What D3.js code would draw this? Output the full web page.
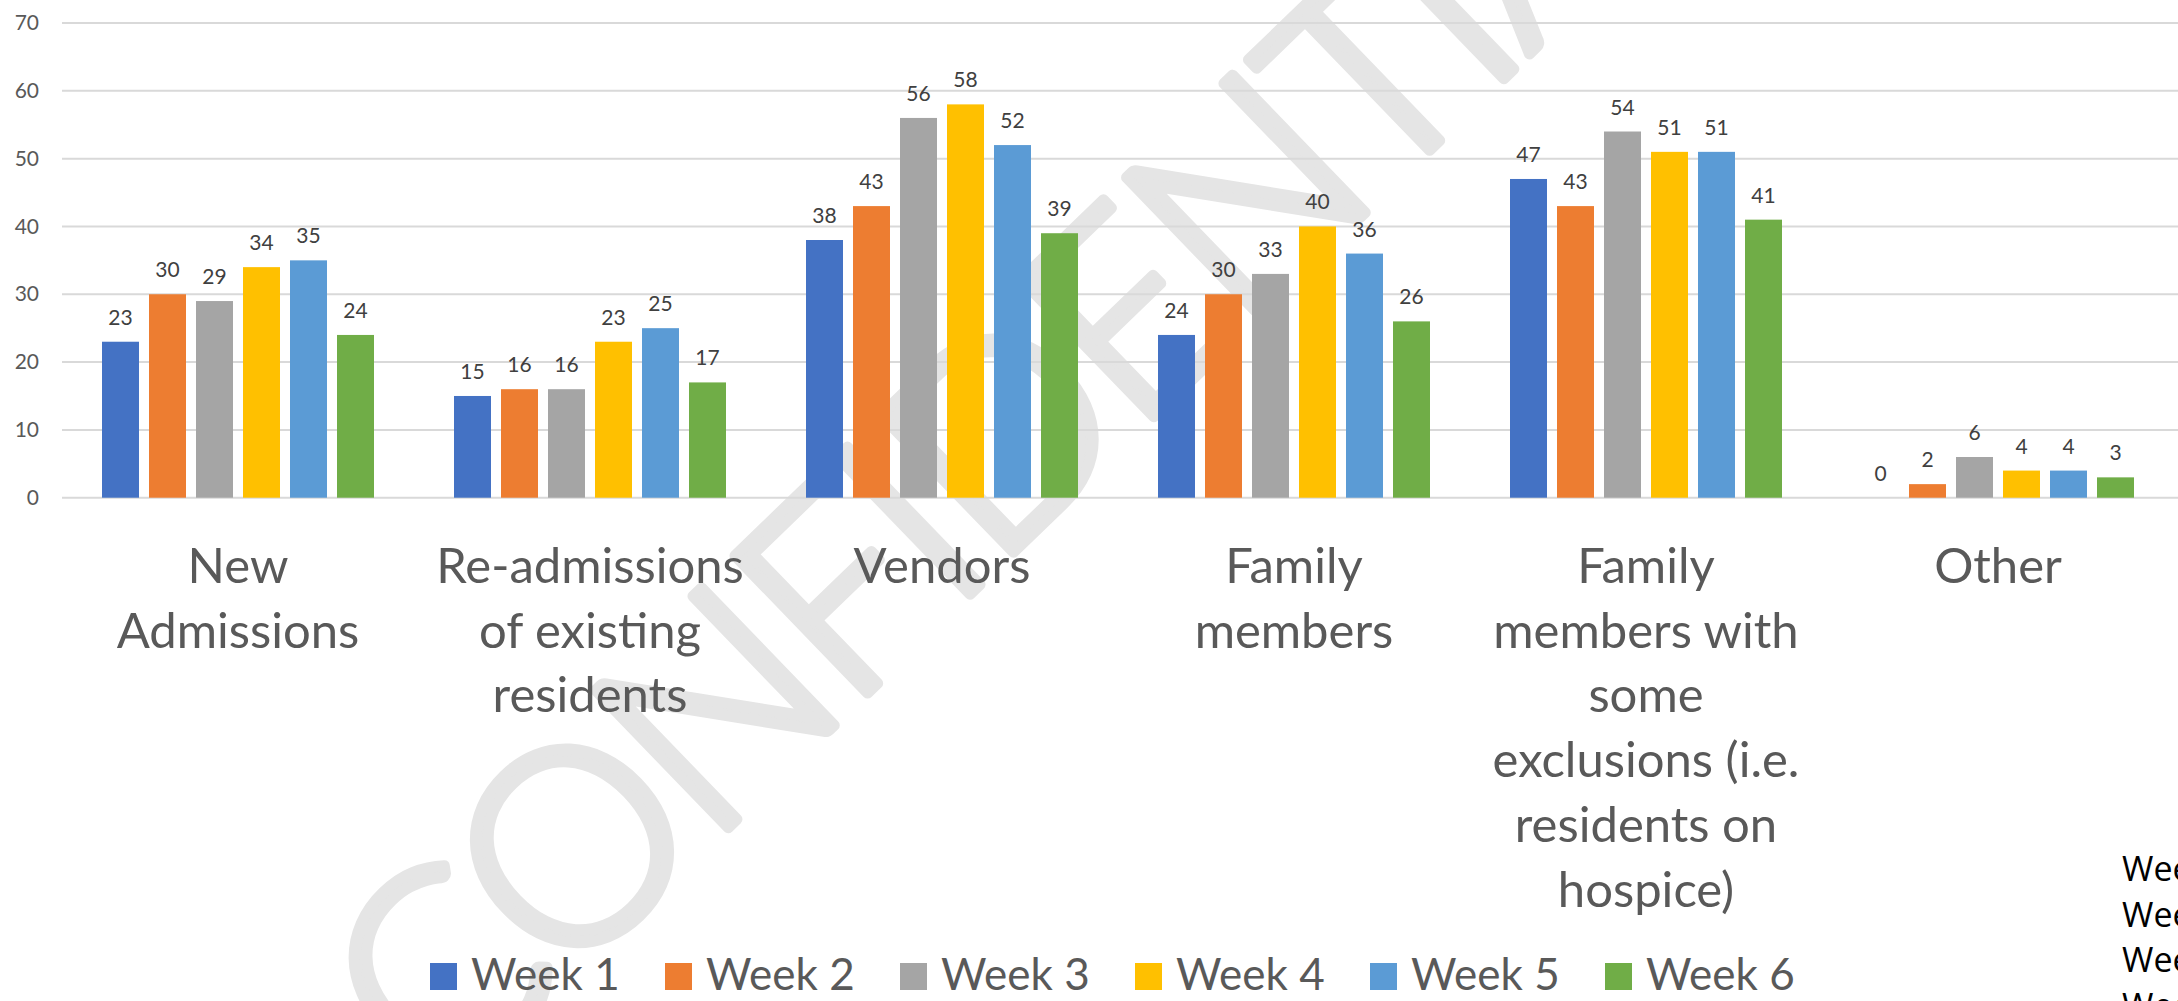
<!DOCTYPE html>
<html>
<head>
<meta charset="utf-8">
<script src="https://cdn.jsdelivr.net/npm/d3@7"></script>
<style>
  html, body { margin: 0; padding: 0; background: #fff; overflow: hidden; }
  svg { display: block; }
</style>
</head>
<body>
<svg id="chart"></svg>
<script>
// chart data
var categories = [
  ['New', 'Admissions'],
  ['Re-admissions', 'of existing', 'residents'],
  ['Vendors'],
  ['Family', 'members'],
  ['Family', 'members with', 'some', 'exclusions (i.e.', 'residents on', 'hospice)'],
  ['Other']
];
var weeks = ['Week 1', 'Week 2', 'Week 3', 'Week 4', 'Week 5', 'Week 6'];
var week1 = [23, 15, 38, 24, 47, 0];
var week2 = [30, 16, 43, 30, 43, 2];
var week3 = [29, 16, 56, 33, 54, 6];
var week4 = [34, 23, 58, 40, 51, 4];
var week5 = [35, 25, 52, 36, 51, 4];
var week6 = [24, 17, 39, 26, 41, 3];
var yTicks = [0, 10, 20, 30, 40, 50, 60, 70];
var sideLabels = ['Week 1', 'Week 2', 'Week 3', 'Week 4'];

var colors = ['#4472c4', '#ed7d31', '#a5a5a5', '#ffc000', '#5b9bd5', '#70ad47'];
var series = [week1, week2, week3, week4, week5, week6];

var width = 2178,
    height = 1001;

var svg = d3.select('#chart')
    .attr('width', width)
    .attr('height', height);

// watermark, behind everything
svg.append('text')
    .attr('transform', 'translate(1025,406) rotate(-44)')
    .attr('text-anchor', 'middle')
    .attr('dy', '0.36em')
    .attr('textLength', 1815)
    .attr('lengthAdjust', 'spacing')
    .style('font-family', 'Lato, sans-serif')
    .style('font-weight', 300)
    .style('font-size', '270px')
    .style('fill', '#e5e5e5')
    .style('stroke', '#e5e5e5')
    .style('stroke-width', 11)
    .style('stroke-linejoin', 'round')
    .style('stroke-linecap', 'round')
    .text('CONFIDENTIAL');

var x0 = d3.scaleBand()
    .domain(d3.range(categories.length))
    .range([62, 2174])
    .paddingInner(80 / 352)
    .paddingOuter(40 / 352);

var x1 = d3.scaleBand()
    .domain(d3.range(weeks.length))
    .range([0, x0.bandwidth()])
    .paddingInner(10 / 47);

var y = d3.scaleLinear()
    .domain([0, 70])
    .range([497.7, 23]);

// gridlines
svg.append('g')
  .selectAll('line')
  .data(yTicks)
  .enter().append('line')
    .attr('x1', 62)
    .attr('x2', width)
    .attr('y1', function(d) { return y(d); })
    .attr('y2', function(d) { return y(d); })
    .style('stroke', '#d9d9d9')
    .style('stroke-width', 2);

// y axis labels
var yAxis = d3.axisLeft(y)
    .tickValues(yTicks)
    .tickSize(0)
    .tickPadding(0);

svg.append('g')
    .attr('transform', 'translate(39,0)')
    .call(yAxis)
    .call(function(g) {
      g.select('.domain').remove();
      g.selectAll('text')
        .style('font-family', 'Lato, sans-serif')
        .style('font-size', '21px')
        .style('fill', '#595959');
    });

// bars
var groups = svg.append('g')
  .selectAll('g')
  .data(series)
  .enter().append('g')
    .style('fill', function(d, i) { return colors[i]; })
    .attr('transform', function(d, i) { return 'translate(' + x1(i) + ',0)'; });

groups.selectAll('rect')
    .data(function(d) { return d; })
    .enter().append('rect')
    .attr('x', function(d, i) { return x0(i); })
    .attr('y', function(d) { return y(d); })
    .attr('width', x1.bandwidth())
    .attr('height', function(d) { return y(0) - y(d); });

groups.selectAll('text')
    .data(function(d) { return d; })
    .enter().append('text')
    .attr('x', function(d, i) { return x0(i) + x1.bandwidth() / 2; })
    .attr('y', function(d) { return y(d) - 17; })
    .attr('text-anchor', 'middle')
    .style('font-family', 'Lato, sans-serif')
    .style('font-size', '21px')
    .style('fill', '#404040')
    .text(function(d) { return d; });

// category labels
var catLabels = svg.append('g')
  .selectAll('text')
  .data(categories)
  .enter().append('text')
    .attr('text-anchor', 'middle')
    .style('font-family', 'Lato, sans-serif')
    .style('font-size', '49px')
    .style('fill', '#595959');

catLabels.selectAll('tspan')
    .data(function(d, i) { return d.map(function(t) { return {t: t, i: i}; }); })
    .enter().append('tspan')
    .attr('x', function(d) { return x0(d.i) + x0.bandwidth() / 2; })
    .attr('y', function(d, j) { return 583 + j * 64.7; })
    .text(function(d) { return d.t; });

// legend
var legend = svg.append('g')
  .selectAll('g')
  .data(weeks)
  .enter().append('g')
    .attr('transform', function(d, i) { return 'translate(' + (430 + i * 235) + ',963)'; });

legend.append('rect')
    .attr('width', 27)
    .attr('height', 27)
    .style('fill', function(d, i) { return colors[i]; });

legend.append('text')
    .attr('x', 41)
    .attr('y', 27)
    .style('font-family', 'Lato, sans-serif')
    .style('font-size', '44px')
    .style('fill', '#595959')
    .text(function(d) { return d; });

// text cut off at the right edge
svg.append('g')
  .selectAll('text')
  .data(sideLabels)
  .enter().append('text')
    .attr('x', 2122)
    .attr('y', function(d, i) { return 881 + i * 45.7; })
    .style('font-family', '"Open Sans", sans-serif')
    .style('font-size', '34px')
    .style('fill', '#000')
    .text(function(d) { return d; });
</script>
</body>
</html>
